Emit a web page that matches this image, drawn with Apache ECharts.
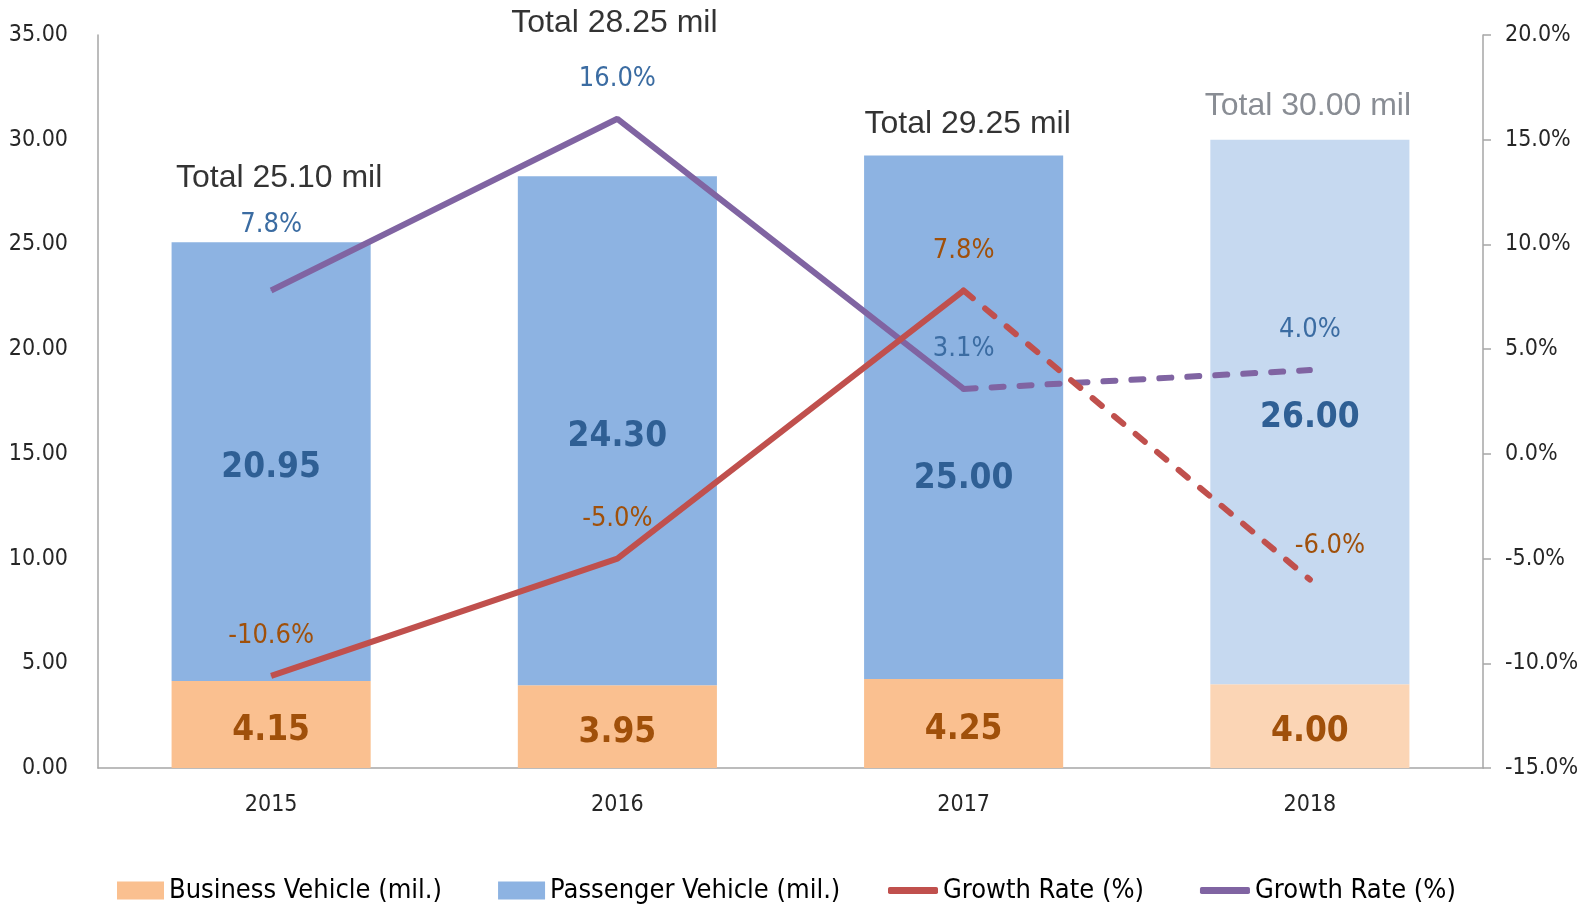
<!DOCTYPE html>
<html>
<head>
<meta charset="utf-8">
<script src="https://cdn.jsdelivr.net/npm/echarts@6/dist/echarts.min.js"></script>
<style>
  html, body { margin: 0; padding: 0; background: #fff; }
  #main { width: 1591px; height: 904px; }
</style>
</head>
<body>
<div id="main"></div>
<script>
// data
var years = ['2015', '2016', '2017', '2018'];
var business = [4.15, 3.95, 4.25, 4.00];
var passenger = [20.95, 24.30, 25.00, 26.00];
var totals = [25.10, 28.25, 29.25, 30.00];
var businessGrowth = [-10.6, -5.0, 7.8, -6.0];
var passengerGrowth = [7.8, 16.0, 3.1, 4.0];

var NARROW = '"DejaVu Sans Condensed", "DejaVu Sans", sans-serif';
var ARIAL = '"Liberation Sans", Arial, sans-serif';

var orange = '#FAC090', orangeLight = '#FBD5B5';
var blue = '#8DB3E2', blueLight = '#C6D9F0';
var red = '#C0504D', purple = '#8064A2';
var brownText = '#A0500A', blueText = '#2F5F94', pctBlue = '#3B6CA2';

var pct = function (p) { return p.value.toFixed(1) + '%'; };

// 2018 is a forecast: lighter bars, dashed lines
var lastIdx = years.length - 1;

var businessData = business.map(function (v, i) {
    return i === lastIdx ? { value: v, itemStyle: { color: orangeLight } } : v;
});
var passengerData = passenger.map(function (v, i) {
    var item = { value: v };
    if (i === lastIdx) item.itemStyle = { color: blueLight };
    if (i === 2) item.label = { offset: [0, 62] };
    return item;
});

// solid part: up to 2017, dashed part: 2017 -> 2018
function solidPart(arr) {
    return arr.map(function (v, i) { return i < lastIdx ? v : '-'; });
}
function dashedPart(arr, labelOffset) {
    return arr.map(function (v, i) {
        if (i < lastIdx - 1) return '-';
        if (i === lastIdx) return { value: v, label: { show: true, offset: labelOffset } };
        return v;
    });
}

var totalOffsets = [[8, -43], [-3, -132], [4, -10], [-2, -12]];
var totalData = totals.map(function (v, i) {
    var item = { value: v, label: { offset: totalOffsets[i] } };
    if (i === lastIdx) item.label.color = '#6B7079';
    return item;
});

var redSolid = solidPart(businessGrowth);
var purpleSolid = solidPart(passengerGrowth).map(function (v, i) {
    return i === 0 ? { value: v, label: { offset: [0, -26] } } : v;
});

var chart = echarts.init(document.getElementById('main'));

var lineLabel = function (color) {
    return {
        show: true, position: 'top', distance: 26, formatter: pct,
        color: color, fontFamily: NARROW, fontSize: 27
    };
};

var option = {
    backgroundColor: '#fff',
    animation: false,
    grid: { left: 98, right: 108, top: 35, bottom: 136 },
    legend: [
        {
            data: [
                { name: 'Business Vehicle (mil.)', icon: 'rect' },
                { name: 'Passenger Vehicle (mil.)', icon: 'rect' }
            ],
            left: 112, top: 872,
            itemWidth: 47, itemHeight: 18, itemGap: 56,
            textStyle: { fontFamily: NARROW, fontSize: 27, color: '#000' }
        },
        {
            data: [
                { name: 'Growth Rate (%)', icon: 'roundRect' },
                { name: 'Growth Rate (%) ', icon: 'roundRect' }
            ],
            left: 883, top: 872,
            itemWidth: 50, itemHeight: 7, itemGap: 56,
            formatter: function (name) { return name.trim(); },
            textStyle: { fontFamily: NARROW, fontSize: 27, color: '#000' }
        }
    ],
    xAxis: {
        type: 'category',
        data: years,
        axisLine: { lineStyle: { color: '#A6A6A6', width: 1.5 } },
        axisTick: { show: false },
        axisLabel: { fontFamily: NARROW, fontSize: 23, color: '#262626', margin: 26 }
    },
    yAxis: [
        {
            type: 'value', min: 0, max: 35, interval: 5,
            splitLine: { show: false },
            axisLine: { show: true, lineStyle: { color: '#A6A6A6', width: 1.5 } },
            axisTick: { show: false },
            axisLabel: {
                fontFamily: NARROW, fontSize: 23, color: '#262626', margin: 30,
                formatter: function (v) { return v.toFixed(2); }
            }
        },
        {
            type: 'value', min: -15, max: 20, interval: 5,
            splitLine: { show: false },
            axisLine: { show: true, lineStyle: { color: '#A6A6A6', width: 1.5 } },
            axisTick: { show: true, length: 8, lineStyle: { color: '#A6A6A6', width: 1.5 } },
            axisLabel: {
                fontFamily: NARROW, fontSize: 23, color: '#262626', margin: 22,
                formatter: function (v) { return v.toFixed(1) + '%'; }
            }
        }
    ],
    series: [
        {
            name: 'Business Vehicle (mil.)',
            type: 'bar', stack: 'vehicle', barWidth: '57.5%',
            itemStyle: { color: orange },
            label: {
                show: true, position: 'inside', offset: [0, 6],
                formatter: function (p) { return p.value.toFixed(2); },
                color: brownText, fontFamily: NARROW, fontWeight: 'bold', fontSize: 35
            },
            data: businessData
        },
        {
            name: 'Passenger Vehicle (mil.)',
            type: 'bar', stack: 'vehicle', barWidth: '57.5%',
            itemStyle: { color: blue },
            label: {
                show: true, position: 'inside', offset: [0, 6],
                formatter: function (p) { return p.value.toFixed(2); },
                color: blueText, fontFamily: NARROW, fontWeight: 'bold', fontSize: 35
            },
            data: passengerData
        },
        {
            name: 'Growth Rate (%)',
            type: 'line', yAxisIndex: 1, z: 4,
            symbol: 'circle', symbolSize: 1, showSymbol: true,
            itemStyle: { color: red },
            lineStyle: { color: red, width: 6 },
            label: lineLabel(brownText),
            data: redSolid
        },
        {
            name: 'Growth Rate (%) ',
            type: 'line', yAxisIndex: 1, z: 3,
            symbol: 'circle', symbolSize: 1, showSymbol: true,
            itemStyle: { color: purple },
            lineStyle: { color: purple, width: 6 },
            label: lineLabel(pctBlue),
            data: purpleSolid
        },
        {
            name: 'Business Growth 2018',
            type: 'line', yAxisIndex: 1, z: 4,
            symbol: 'circle', symbolSize: 1, showSymbol: true,
            itemStyle: { color: red },
            lineStyle: { color: red, width: 6, type: [12, 16], cap: 'round' },
            label: Object.assign(lineLabel(brownText), { show: false }),
            data: dashedPart(businessGrowth, [20, 6])
        },
        {
            name: 'Passenger Growth 2018',
            type: 'line', yAxisIndex: 1, z: 3,
            symbol: 'circle', symbolSize: 1, showSymbol: true,
            itemStyle: { color: purple },
            lineStyle: { color: purple, width: 6, type: [12, 16], cap: 'round' },
            label: Object.assign(lineLabel(pctBlue), { show: false }),
            data: dashedPart(passengerGrowth, [0, 0])
        },
        {
            name: 'Total',
            type: 'scatter', z: 5, silent: true,
            symbolSize: 1,
            itemStyle: { color: 'rgba(0,0,0,0)' },
            label: {
                show: true, position: 'top', distance: 5,
                formatter: function (p) { return 'Total ' + p.value.toFixed(2) + ' mil'; },
                color: '#000', fontFamily: ARIAL, fontSize: 32
            },
            data: totalData
        }
    ]
};

chart.setOption(option);
</script>
</body>
</html>
